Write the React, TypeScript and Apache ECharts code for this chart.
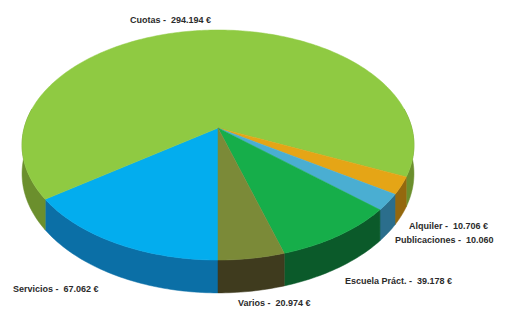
import React, { useEffect, useRef } from "react";
import * as echarts from "echarts";

// Data
const categories = ["Servicios", "Cuotas", "Alquiler", "Publicaciones", "Escuela Práct.", "Varios"];
const values = [67062, 294194, 10706, 10060, 39178, 20974];
const currencySuffix = ["€", "€", "€", "", "€", "€"];

// Styles / layout
const topColors = ["#03adee", "#8fca42", "#e5a516", "#4aaed2", "#16ae4a", "#7b8a38"];
const sideColors = ["#0b6fa6", "#6b8f2d", "#94680e", "#2b6e8c", "#0b5a2a", "#3f3b1e"];
const labelAnchors = [
  [13, 289],
  [130, 20],
  [409, 226],
  [395, 240],
  [345, 281],
  [238, 303],
];

// perspective projection of a tilted disc
const CX = 218;
const CY = 128;
const AX = 193.8;
const BY = 112.5;
const PERSP = 0.148;
const DEPTH = 28;
const START = 90; // degrees, screen coords, clockwise

function fmt(v: number) {
  return String(v).replace(/\B(?=(\d{3})+(?!\d))/g, ".");
}

function pt(deg: number, depth = 0): number[] {
  const r = (deg * Math.PI) / 180;
  const w = 1 - PERSP * Math.sin(r);
  return [CX + (AX * Math.cos(r)) / w, CY + (BY * Math.sin(r)) / w + depth / w];
}

function arc(a: number, b: number, depth = 0): number[][] {
  const pts: number[][] = [];
  const n = Math.max(2, Math.ceil(Math.abs(b - a)));
  for (let i = 0; i <= n; i++) pts.push(pt(a + ((b - a) * i) / n, depth));
  return pts;
}

export default function App() {
  const ref = useRef<HTMLDivElement>(null);
  useEffect(() => {
    if (!ref.current) return;
    const chart = echarts.init(ref.current, undefined, { renderer: "svg" });
    const total = values.reduce((a, b) => a + b, 0);
    const angles: number[] = [START];
    values.forEach((v, i) => angles.push(angles[i] + (v / total) * 360));
    // front-facing range: where the rim silhouette is visible (sin >= PERSP approx from 0..180)
    const f0 = (Math.asin(PERSP) * 180) / Math.PI * 0; // side visible from 0 to 180

    const renderItem = (params: any, api: any) => {
      const i = params.dataIndex;
      const a1 = angles[i];
      const a2 = angles[i + 1];
      const children: any[] = [];
      [[f0 - 10, 190], [350, 550]].forEach(([f1, f2]) => {
        const s = Math.max(a1, f1);
        const e = Math.min(a2, f2);
        if (e > s) {
          const top = arc(s, e);
          const bottom = arc(e, s, DEPTH);
          children.push({
            type: "polygon",
            shape: { points: top.concat(bottom) },
            style: { fill: sideColors[i], stroke: sideColors[i], lineWidth: 0.5 },
          });
        }
      });
      return { type: "group", children };
    };

    const renderTop = (params: any, api: any) => {
      const i = params.dataIndex;
      const a1 = angles[i];
      const a2 = angles[i + 1];
      const [lx, ly] = labelAnchors[i];
      const suffix = currencySuffix[i] ? " " + currencySuffix[i] : "";
      return {
        type: "group",
        children: [
          {
            type: "polygon",
            shape: { points: [[CX, CY]].concat(arc(a1, a2)) },
            style: { fill: topColors[i], stroke: topColors[i], lineWidth: 0.5 },
          },
          {
            type: "text",
            x: lx,
            y: ly,
            style: {
              text: `${categories[i]} -  ${fmt(api.value(0))}${suffix}`,
              fill: "#2b2b2b",
              font: "bold 9px 'Liberation Sans', Arial, sans-serif",
              verticalAlign: "middle",
              align: "left",
            },
          },
        ],
      };
    };

    const data = values.map((v, i) => ({ name: categories[i], value: v }));
    chart.setOption({
      animation: false,
      backgroundColor: "#ffffff",
      series: [
        { type: "custom", coordinateSystem: "none", renderItem, data, z: 1 },
        { type: "custom", coordinateSystem: "none", renderItem: renderTop, data, z: 2 },
      ],
    });
    return () => chart.dispose();
  }, []);
  return (
    <div
      ref={ref}
      style={{ position: "absolute", left: 0, top: 0, width: 513, height: 312 }}
    />
  );
}
